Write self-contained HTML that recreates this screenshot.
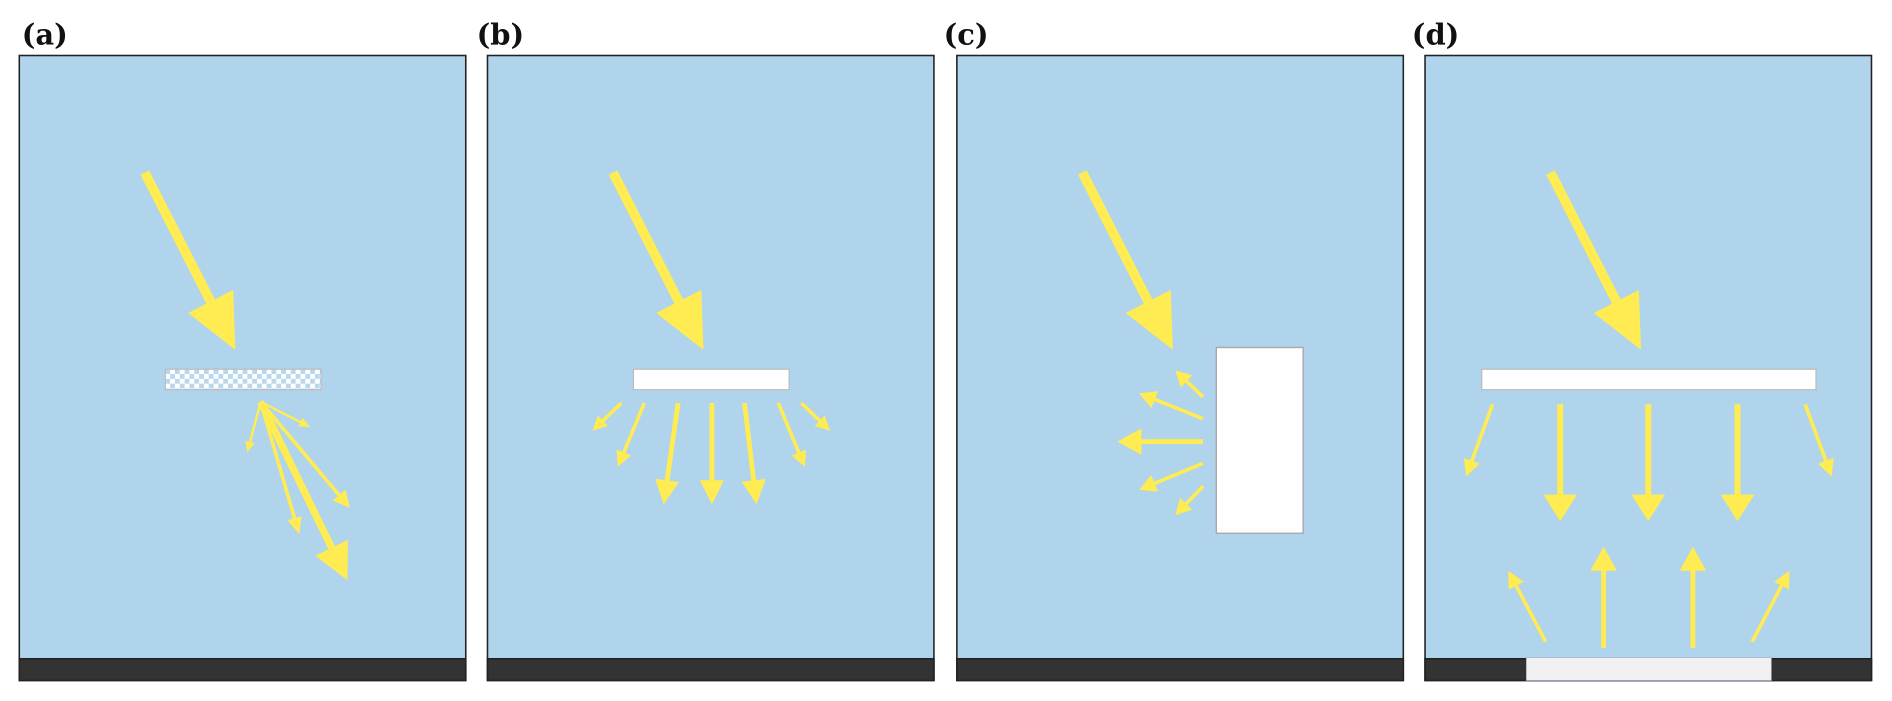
<!DOCTYPE html>
<html><head><meta charset="utf-8"><style>
html,body{margin:0;padding:0;background:#fff;width:1892px;height:701px;overflow:hidden}
svg{display:block}
text{font-family:"DejaVu Serif","Liberation Serif",serif;font-weight:bold;font-size:24px;fill:#111}
</style></head><body>
<svg id="s" width="1892" height="701" viewBox="0 0 1568 581" preserveAspectRatio="none" xmlns="http://www.w3.org/2000/svg">
<defs>
<pattern id="chk" width="8" height="8" patternUnits="userSpaceOnUse" x="137" y="306">
<rect width="8" height="8" fill="#fff"/><rect width="4" height="4" fill="#b8d8ef"/><rect x="4" y="4" width="4" height="4" fill="#b8d8ef"/>
</pattern>
</defs>
<g stroke="#222" stroke-width="1.3">
<rect x="16" y="46" width="370" height="518" fill="#b0d4ec"/>
<rect x="404" y="46" width="370" height="518" fill="#b0d4ec"/>
<rect x="793" y="46" width="370" height="518" fill="#b0d4ec"/>
<rect x="1181" y="46" width="370" height="518" fill="#b0d4ec"/>
<rect x="16" y="546" width="370" height="18" fill="#333"/>
<rect x="404" y="546" width="370" height="18" fill="#333"/>
<rect x="793" y="546" width="370" height="18" fill="#333"/>
<rect x="1181" y="546" width="370" height="18" fill="#333"/>
</g>
<rect x="1265" y="545" width="203" height="19" fill="#f0f0f0" stroke="#aac" stroke-width="0.6"/>
<text x="18" y="37">(a)</text>
<text x="395" y="37">(b)</text>
<text x="782" y="37">(c)</text>
<text x="1170" y="37">(d)</text>
<rect x="137" y="306" width="129" height="17" fill="url(#chk)" stroke="#bbb" stroke-width="1"/>
<rect x="525" y="306" width="129" height="17" fill="#fff" stroke="#bbb" stroke-width="1"/>
<rect x="1008" y="288" width="72" height="154" fill="#fff" stroke="#aaa" stroke-width="1.2"/>
<rect x="1228" y="306" width="277" height="17" fill="#fff" stroke="#bbb" stroke-width="1"/>
<g id="arr" fill="#ffeb52" stroke="none"></g>
</svg>
<script>
var g=document.getElementById('arr'),NS='http://www.w3.org/2000/svg';
function A(x1,y1,x2,y2,sw,L,W){var dx=x2-x1,dy=y2-y1,d=Math.hypot(dx,dy),ux=dx/d,uy=dy/d,bx=x2-ux*L,by=y2-uy*L,px=-uy,py=ux;
var l=document.createElementNS(NS,'line');l.setAttribute('x1',x1);l.setAttribute('y1',y1);l.setAttribute('x2',bx+ux*1);l.setAttribute('y2',by+uy*1);l.setAttribute('stroke','#ffeb52');l.setAttribute('stroke-width',sw);g.appendChild(l);
var p=document.createElementNS(NS,'polygon');p.setAttribute('points',x2+','+y2+' '+(bx+px*W/2)+','+(by+py*W/2)+' '+(bx-px*W/2)+','+(by-py*W/2));g.appendChild(p);}
[0,388,777,1165].forEach(function(o){A(120+o,143,195+o,290,8,45,42);});
// a
A(216,333,205,375,2,9,8);A(216,333,257,354,2,9,8);A(216,333,248,443,3,14,12);A(216,333,290,421,3,14,14);A(216,333,288,481,6,30,30);
// b
A(515,334,491,357,3,12,12);A(534,334,512,387,3,13,13);A(562,334,550,418,4,20,20);A(590,334,590,418,4,20,20);A(617,334,627,418,4,20,20);A(645,334,667,387,3,13,13);A(664,334,688,357,3,12,12);
// c
A(997,329,974,307,3,13,14);A(997,347,944,326,3,14,15);A(997,366,926,366,4,20,22);A(997,384,944,406,3,14,15);A(997,403,974,427,3,13,14);
// d
A(1237,335,1215,395,3,14,14);A(1293,335,1293,432,5,22,28);A(1366,335,1366,432,5,22,28);A(1440,335,1440,432,5,22,28);A(1496,335,1518,395,3,14,14);
A(1281,532,1250,473,3,14,14);A(1329,537,1329,453,4,20,22);A(1403,537,1403,453,4,20,22);A(1452,532,1483,473,3,14,14);
</script>
</body></html>
